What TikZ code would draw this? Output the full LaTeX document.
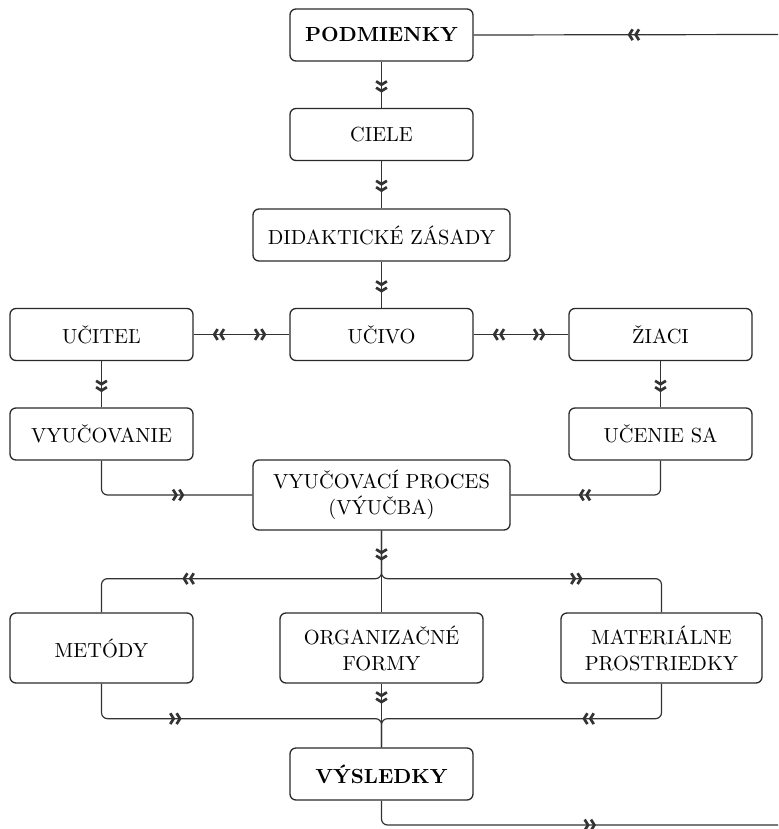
\documentclass[tikz,border=0pt]{standalone}
\usepackage{fontspec}
\usetikzlibrary{arrows.meta,decorations.markings}
\definecolor{linec}{HTML}{333333}
\definecolor{boxc}{HTML}{2A2A2A}
\tikzset{
  dbl/.tip={Straight Barb[length=1.7pt,width=5.4pt,line width=1.35pt] Straight Barb[length=1.7pt,width=5.4pt,line width=1.35pt]},
  box/.style={draw=boxc, line width=0.65pt, rounded corners=3pt, inner sep=0pt,
    align=center, font=\fontsize{10.2}{13}\selectfont,
    minimum height=26pt, minimum width=91.5pt},
  conn/.style={draw=linec, line width=0.6pt, rounded corners=3pt},
  fwd/.style={postaction={decorate,decoration={markings,
      mark=at position #1 with {\arrow[linec]{dbl}}}}},
  bwd/.style={postaction={decorate,decoration={markings,
      mark=at position #1 with {\arrowreversed[linec]{dbl}}}}},
}
\begin{document}
\begin{tikzpicture}[x=0.5pt,y=-0.5pt]
\useasboundingbox (0,0) rectangle (778,829);
% nodes
\node[box] (pod) at (381.5,35) {\bfseries PODMIENKY};
\node[box] (ciele) at (381.5,134.5) {CIELE};
\node[box, minimum width=128.5pt] (did) at (381.5,235) {DIDAKTICKÉ ZÁSADY};
\node[box] (uciv) at (381.5,334.5) {UČIVO};
\node[box] (ucit) at (101.5,334.5) {UČITEĽ};
\node[box] (ziaci) at (660.5,334.5) {ŽIACI};
\node[box] (vyuc) at (101.5,434) {VYUČOVANIE};
\node[box] (ucen) at (660.5,434) {UČENIE SA};
\node[box, minimum width=128.5pt, minimum height=35pt] (proc) at (381.5,495) {VYUČOVACÍ PROCES\\(VÝUČBA)};
\node[box, minimum height=35pt] (met) at (101.5,648) {METÓDY};
\node[box, minimum width=101.5pt, minimum height=35pt] (org) at (381.5,648) {ORGANIZAČNÉ\\FORMY};
\node[box, minimum width=100.5pt, minimum height=35pt] (mat) at (661.5,648) {MATERIÁLNE\\PROSTRIEDKY};
\node[box] (vys) at (381.5,774) {\bfseries VÝSLEDKY};
\coordinate (inR) at (778,34.5);
\coordinate (outR) at (778,825);
% connectors
\path[conn, fwd=-77pt] (inR) -- (pod.east);
\path[conn, fwd=15.5pt] (pod.south) -- (ciele.north);
\path[conn, fwd=15.5pt] (ciele.south) -- (did.north);
\path[conn, fwd=15.5pt] (did.south) -- (uciv.north);
\path[conn, bwd=9.5pt, fwd=-11.5pt] (ucit.east) -- (uciv.west);
\path[conn, bwd=9.5pt, fwd=-11.5pt] (uciv.east) -- (ziaci.west);
\path[conn, fwd=15.5pt] (ucit.south) -- (vyuc.north);
\path[conn, fwd=15.5pt] (ziaci.south) -- (ucen.north);
\path[conn, fwd=-34pt] (vyuc.south) |- (proc.west);
\path[conn, fwd=-34pt] (ucen.south) |- (proc.east);
\path[conn, fwd=15pt] (proc.south) -- (org.north);
\path[conn, fwd=-56pt] (proc.south) -- ++(0,48) -| (met.north);
\path[conn, fwd=-55pt] (proc.south) -- ++(0,48) -| (mat.north);
\path[conn, fwd=10pt] (org.south) -- (vys.north);
\path[conn, fwd=-113pt] (met.south) -- ++(0,35) -| (vys.north);
\path[conn, fwd=-113.5pt] (mat.south) -- ++(0,35) -| (vys.north);
\path[conn, fwd=-91pt] (vys.south) |- (outR);
\end{tikzpicture}
\end{document}
